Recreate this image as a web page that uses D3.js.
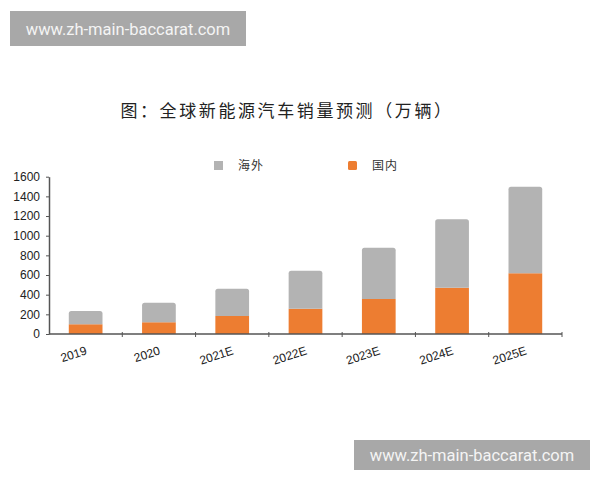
<!DOCTYPE html>
<html lang="zh">
<head>
<meta charset="UTF-8">
<title>全球新能源汽车销量预测</title>
<script src="https://d3js.org/d3.v7.min.js"></script>
<style>
  body { margin: 0; background: #fff; }
  svg { display: block; }
  .axis text { font-family: "Liberation Sans", Arial, sans-serif; font-size: 12px; fill: #222; }
  .axis path, .axis line { stroke: #555; }
</style>
</head>
<body>
<div id="chart"></div>
<script>
// data (万辆)
var years = ["2019", "2020", "2021E", "2022E", "2023E", "2024E", "2025E"];
var domestic = [100, 120, 182, 257, 355, 470, 617];
var overseas = [135, 198, 279, 387, 522, 697, 881];
var yTicks = [0, 200, 400, 600, 800, 1000, 1200, 1400, 1600];

var W = 600, H = 480;
var svg = d3.select("#chart").append("svg")
    .attr("width", W).attr("height", H);

// watermarks
function watermark(x, y, w, h) {
    svg.append("rect").attr("x", x).attr("y", y).attr("width", w).attr("height", h)
        .attr("fill", "#a8a8a8");
    svg.append("text").attr("x", x + w / 2).attr("y", y + h / 2 + 6)
        .attr("text-anchor", "middle")
        .style("font-family", "Roboto, Arial, sans-serif")
        .style("font-size", "16.5px")
        .attr("fill", "#f4f4f4")
        .text("www.zh-main-baccarat.com");
}
watermark(10, 11, 236, 35);
watermark(354, 440, 236, 30);

// title
svg.append("text")
    .attr("x", 287).attr("y", 117)
    .attr("text-anchor", "middle")
    .style("font-family", "'Noto Sans CJK SC', sans-serif")
    .style("font-size", "17px")
    .style("letter-spacing", "2.6px")
    .attr("fill", "#222")
    .text("图：全球新能源汽车销量预测（万辆）");

var plotLeft = 49, plotRight = 562, plotTop = 176.7, plotBottom = 334;

var x = d3.scaleBand().domain(years).range([plotLeft, plotRight]).paddingInner(0.54).paddingOuter(0.27);
var y = d3.scaleLinear().domain([0, 1600]).range([plotBottom, plotTop]);

// stack data
var rows = years.map(function (d, i) { return { year: d, dom: domestic[i], ovs: overseas[i] }; });
var stack = d3.stack().keys(["dom", "ovs"])(rows);
var colors = { dom: "#ed7d31", ovs: "#b3b3b3" };

stack.forEach(function (layer) {
    svg.append("g").selectAll("path")
        .data(layer)
        .enter().append("path")
        .attr("fill", colors[layer.key])
        .attr("d", function (d) {
            var x0 = x(d.data.year), w = x.bandwidth();
            var y0 = y(d[0]), y1 = y(d[1]);
            var r = layer.key === "ovs" ? 2.5 : 0;
            return "M" + x0 + "," + y0 +
                "V" + (y1 + r) +
                "Q" + x0 + "," + y1 + " " + (x0 + r) + "," + y1 +
                "H" + (x0 + w - r) +
                "Q" + (x0 + w) + "," + y1 + " " + (x0 + w) + "," + (y1 + r) +
                "V" + y0 + "Z";
        });
});

// y axis
var yAxis = svg.append("g").attr("class", "axis")
    .attr("transform", "translate(" + plotLeft + ",0)")
    .call(d3.axisLeft(y).tickValues(yTicks).tickSize(3).tickPadding(6).tickSizeOuter(0).tickFormat(d3.format("d")));
yAxis.select(".domain").attr("stroke-width", 1.5);

// x axis: ticks between categories
var boundaries = d3.range(years.length + 1).map(function (i) { return plotLeft + i * (plotRight - plotLeft) / years.length; });
var xAxis = svg.append("g").attr("class", "axis");
xAxis.append("line").attr("x1", plotLeft).attr("x2", plotRight).attr("y1", plotBottom).attr("y2", plotBottom)
    .attr("stroke-width", 1.5);
xAxis.selectAll("line.tk").data(boundaries.slice(1)).enter().append("line")
    .attr("class", "tk")
    .attr("x1", function (d) { return d; }).attr("x2", function (d) { return d; })
    .attr("y1", plotBottom - 2).attr("y2", plotBottom + 3);
xAxis.selectAll("text").data(years).enter().append("text")
    .attr("text-anchor", "end")
    .attr("transform", function (d) {
        return "translate(" + (x(d) + x.bandwidth() / 2 + 2) + "," + (plotBottom + 20) + ") rotate(-18)";
    })
    .text(function (d) { return d; });

// legend
var legend = [{ key: "ovs", label: "海外", x: 214 }, { key: "dom", label: "国内", x: 348 }];
var lg = svg.append("g").selectAll("g").data(legend).enter().append("g")
    .attr("transform", function (d) { return "translate(" + d.x + ",161)"; });
lg.append("rect").attr("width", 9).attr("height", 9).attr("rx", function (d) { return d.key === "dom" ? 1.5 : 0; })
    .attr("fill", function (d) { return colors[d.key]; });
lg.append("text").attr("x", 24).attr("y", 9)
    .style("font-family", "'Noto Sans CJK SC', sans-serif")
    .style("font-size", "12px")
    .style("letter-spacing", "1px")
    .attr("fill", "#333")
    .text(function (d) { return d.label; });
</script>
</body>
</html>
